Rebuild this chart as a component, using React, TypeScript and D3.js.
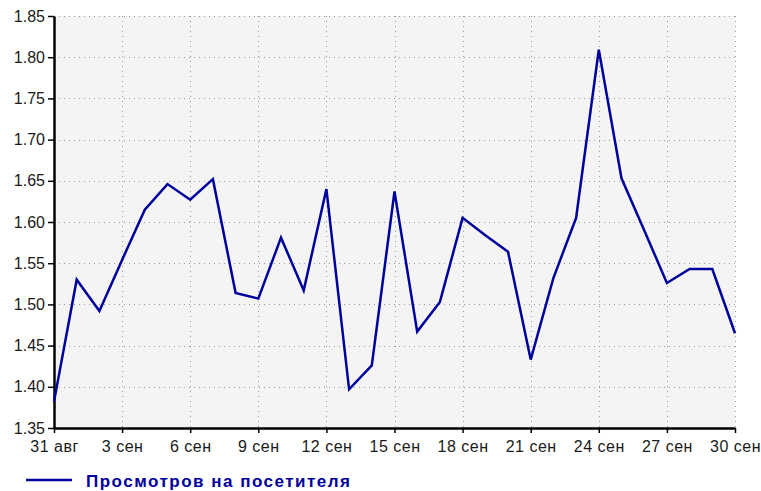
import { useEffect, useRef } from "react";
import * as d3 from "d3";

// daily labels, 31 Aug .. 30 Sep
const days = [
  "31 авг", "1 сен", "2 сен", "3 сен", "4 сен", "5 сен", "6 сен", "7 сен",
  "8 сен", "9 сен", "10 сен", "11 сен", "12 сен", "13 сен", "14 сен", "15 сен",
  "16 сен", "17 сен", "18 сен", "19 сен", "20 сен", "21 сен", "22 сен", "23 сен",
  "24 сен", "25 сен", "26 сен", "27 сен", "28 сен", "29 сен", "30 сен",
];
const views = [
  1.382, 1.530, 1.492, 1.554, 1.615, 1.646, 1.627, 1.652,
  1.514, 1.507, 1.581, 1.517, 1.640, 1.397, 1.426, 1.637,
  1.467, 1.503, 1.605, 1.584, 1.564, 1.433, 1.532, 1.605,
  1.809, 1.653, 1.590, 1.526, 1.543, 1.543, 1.465,
];
const yTicks = [1.35, 1.4, 1.45, 1.5, 1.55, 1.6, 1.65, 1.7, 1.75, 1.8, 1.85];
const xTickIdx = [0, 3, 6, 9, 12, 15, 18, 21, 24, 27, 30];
const seriesName = "Просмотров на посетителя";

const W = 761, H = 491;
const margin = { top: 16, right: 26, bottom: 63, left: 54 };

const App = () => {
  const ref = useRef<SVGSVGElement>(null);

  useEffect(() => {
    const svg = d3.select(ref.current);
    svg.selectAll("*").remove();

    const x = d3.scaleLinear().domain([0, days.length - 1]).range([margin.left, W - margin.right]);
    const y = d3.scaleLinear().domain([1.35, 1.85]).range([H - margin.bottom, margin.top]);

    // plot background
    svg.append("rect")
      .attr("x", margin.left).attr("y", margin.top)
      .attr("width", W - margin.right - margin.left)
      .attr("height", H - margin.bottom - margin.top)
      .attr("fill", "#f4f4f4");

    // grid
    const grid = svg.append("g").attr("stroke", "#9a9a9a").attr("stroke-dasharray", "1,4").attr("stroke-width", 1);
    grid.selectAll("line.h").data(yTicks.slice(1)).enter().append("line")
      .attr("class", "h")
      .attr("x1", margin.left).attr("x2", W - margin.right)
      .attr("y1", d => Math.round(y(d)) + 0.5).attr("y2", d => Math.round(y(d)) + 0.5);
    grid.selectAll("line.v").data(xTickIdx.slice(1)).enter().append("line")
      .attr("class", "v")
      .attr("y1", margin.top).attr("y2", H - margin.bottom)
      .attr("x1", d => Math.round(x(d)) + 0.5).attr("x2", d => Math.round(x(d)) + 0.5);

    // axes
    const yAxis = d3.axisLeft(y).tickValues(yTicks).tickFormat(d3.format(".2f")).tickSize(6).tickPadding(3).tickSizeOuter(0);
    const xAxis = d3.axisBottom(x).tickValues(xTickIdx).tickFormat(i => days[i as number]).tickSize(5).tickPadding(8).tickSizeOuter(0);

    const gy = svg.append("g").attr("transform", `translate(${margin.left},0)`).call(yAxis);
    const gx = svg.append("g").attr("transform", `translate(0,${H - margin.bottom})`).call(xAxis);

    [gx, gy].forEach(g => {
      g.select(".domain").attr("stroke", "#000").attr("stroke-width", 2.5);
      g.selectAll(".tick line").attr("stroke", "#000").attr("stroke-width", 1.5);
      g.selectAll(".tick text")
        .attr("fill", "#1a1a1a")
        .style("font-family", "Arial, 'Liberation Sans', sans-serif")
        .style("font-size", "16px");
    });
    gx.selectAll(".tick text").style("letter-spacing", "0.5px");

    // series line
    const line = d3.line<number>().x((_, i) => x(i)).y(d => y(d));
    svg.append("path")
      .datum(views)
      .attr("d", line)
      .attr("fill", "none")
      .attr("stroke", "#00009c")
      .attr("stroke-width", 2.5)
      .attr("stroke-linejoin", "miter");

    // legend
    svg.append("line")
      .attr("x1", 26).attr("x2", 72).attr("y1", 480).attr("y2", 480)
      .attr("stroke", "#00009c").attr("stroke-width", 2.5);
    svg.append("text")
      .attr("x", 86).attr("y", 487)
      .attr("fill", "#00009c")
      .attr("textLength", 264)
      .attr("lengthAdjust", "spacing")
      .style("font-family", "Arial, 'Liberation Sans', sans-serif")
      .style("font-size", "17px")
      .style("font-weight", "bold")
      .text(seriesName);
  }, []);

  return (
    <svg ref={ref} width={W} height={H}
      style={{ position: "absolute", left: 0, top: 0, background: "#fff" }} />
  );
};

export default App;
